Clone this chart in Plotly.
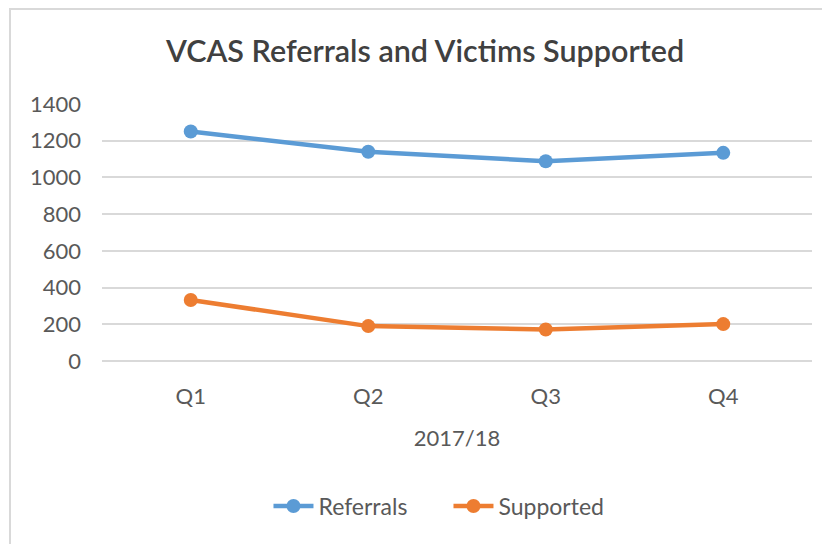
import plotly.graph_objects as go

quarters = ["Q1", "Q2", "Q3", "Q4"]
referrals = [1250, 1140, 1088, 1134]
supported = [332, 190, 172, 201]
y_ticks = [0, 200, 400, 600, 800, 1000, 1200, 1400]

FONT = "Lato"
GREY = "#595959"

fig = go.Figure()
fig.add_trace(go.Scatter(x=quarters, y=referrals, name="Referrals", mode="lines+markers",
                         line=dict(color="#5B9BD5", width=4.5),
                         marker=dict(size=14, color="#5B9BD5")))
fig.add_trace(go.Scatter(x=quarters, y=supported, name="Supported", mode="lines+markers",
                         line=dict(color="#ED7D31", width=4.5),
                         marker=dict(size=14, color="#ED7D31")))

fig.update_layout(
    width=830, height=544,
    margin=dict(l=94, r=26, t=96, b=191),
    paper_bgcolor="white", plot_bgcolor="white",
    font=dict(family=FONT, color=GREY, size=22),
    title=dict(text="VCAS Referrals and Victims Supported", x=(425 - 8) / 830, xanchor="center",
               y=1 - 43 / 544, yanchor="middle",
               font=dict(family=FONT, size=30.5, color="#404040", weight=600)),
    showlegend=True,
    legend=dict(orientation="h", x=0.488, xanchor="center", yref="container",
                y=1 - 498 / 544, yanchor="middle", font=dict(size=23, color=GREY),
                itemwidth=40, entrywidth=125),
    xaxis=dict(range=[-0.5, 3.5], showgrid=False, showline=False, zeroline=False, ticks="",
               ticklabelstandoff=20, tickfont=dict(size=22, color=GREY),
               title=dict(text="2017/18", standoff=22, font=dict(size=22, color=GREY))),
    yaxis=dict(range=[0, 1400], tickvals=y_ticks, showgrid=True, gridcolor="#D9D9D9",
               gridwidth=1.5, zeroline=True, zerolinecolor="#D9D9D9", zerolinewidth=1.5,
               showline=False, ticks="", ticklabelstandoff=20,
               tickfont=dict(size=22, color=GREY)),
)

fig.add_shape(type="rect", xref="paper", yref="paper",
              x0=-92 / 710, x1=1 + 40 / 710, y0=-220 / 257, y1=1 + 95 / 257,
              line=dict(color="#D9D9D9", width=2), fillcolor="rgba(0,0,0,0)", layer="below")

fig.write_html("out.html")
